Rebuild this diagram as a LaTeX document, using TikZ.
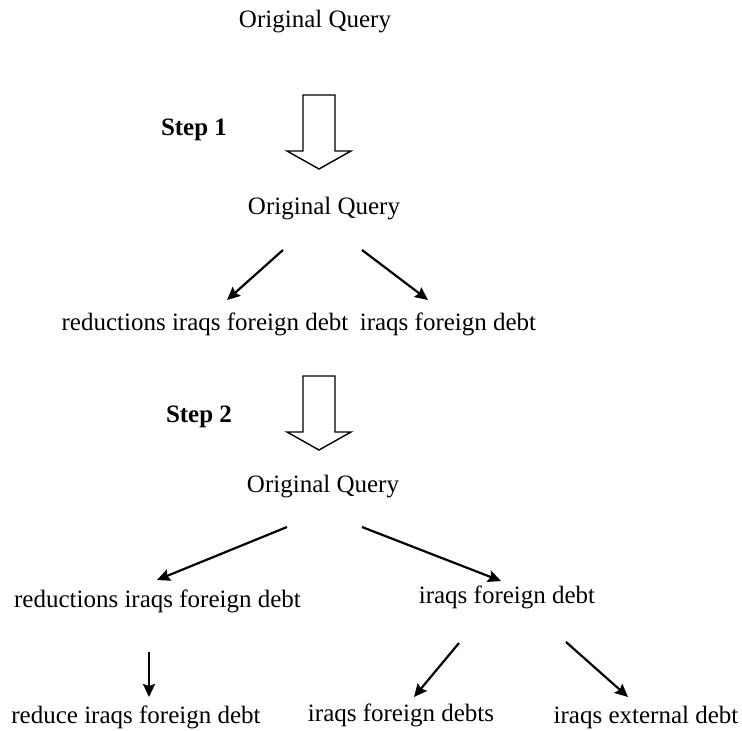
\documentclass[tikz,border=0pt]{standalone}
\usepackage{fontspec}
\setmainfont{Liberation Serif}
\usetikzlibrary{calc}
\usetikzlibrary{arrows.meta}

\begin{document}
\begin{tikzpicture}[x=0.5pt,y=-0.5pt,txt/.style={inner sep=0,anchor=base,font=\fontsize{12.5}{15}\selectfont},steptxt/.style={txt,font=\fontsize{12.5}{15}\selectfont\bfseries},link/.style={draw,line width=1.1pt,-{Stealth[length=6.5pt,width=6pt,inset=1pt]}},bigarrow/.style={draw,line width=0.7pt,fill=white}]
  \useasboundingbox (0,0) rectangle (742,731);
  \node[txt] (q1) at (315,28) {Original Query};
  \path[bigarrow] (303,95) -- (335,95) -- (335,151) -- (351,151) -- (319,169) -- (287,151) -- (303,151) -- cycle;
  \node[steptxt] (s1) at (194,136) {Step 1};
  \node[txt] (q2) at (324,215) {Original Query};
  \node[txt] (r1a) at (205,330) {reductions iraqs foreign debt};
  \node[txt,fill=white,inner xsep=6pt,inner ysep=1pt] (r1b) at (448,330) {iraqs foreign debt};
  \path[link] ($(q2.base)+(-41,35)$) -- ($(r1a.base)+(22,-30)$);
  \path[link] ($(q2.base)+(38,35)$) -- ($(r1b.base)+(-20,-30)$);
  \path[bigarrow] (303,376) -- (335,376) -- (335,432) -- (351,432) -- (319,450) -- (287,432) -- (303,432) -- cycle;
  \node[steptxt] (s2) at (199,422) {Step 2};
  \node[txt] (q3) at (323,492) {Original Query};
  \node[txt] (r2a) at (157.5,607) {reductions iraqs foreign debt};
  \node[txt] (r2b) at (507,603) {iraqs foreign debt};
  \path[link] ($(q3.base)+(-36,35)$) -- ($(r2a.base)+(-0.5,-27)$);
  \path[link] ($(q3.base)+(39,35)$) -- ($(r2b.base)+(-6,-22)$);
  \node[txt] (r3a) at (136,723) {reduce iraqs foreign debt};
  \node[txt] (r3b) at (401,721) {iraqs foreign debts};
  \node[txt] (r3c) at (646,723) {iraqs external debt};
  \path[link] ($(r2a.base)+(-8.5,45)$) -- ($(r3a.base)+(13,-26)$);
  \path[link] ($(r2b.base)+(-48,40)$) -- ($(r3b.base)+(13,-24)$);
  \path[link] ($(r2b.base)+(59,39)$) -- ($(r3c.base)+(-18,-26)$);
\end{tikzpicture}
\end{document}
